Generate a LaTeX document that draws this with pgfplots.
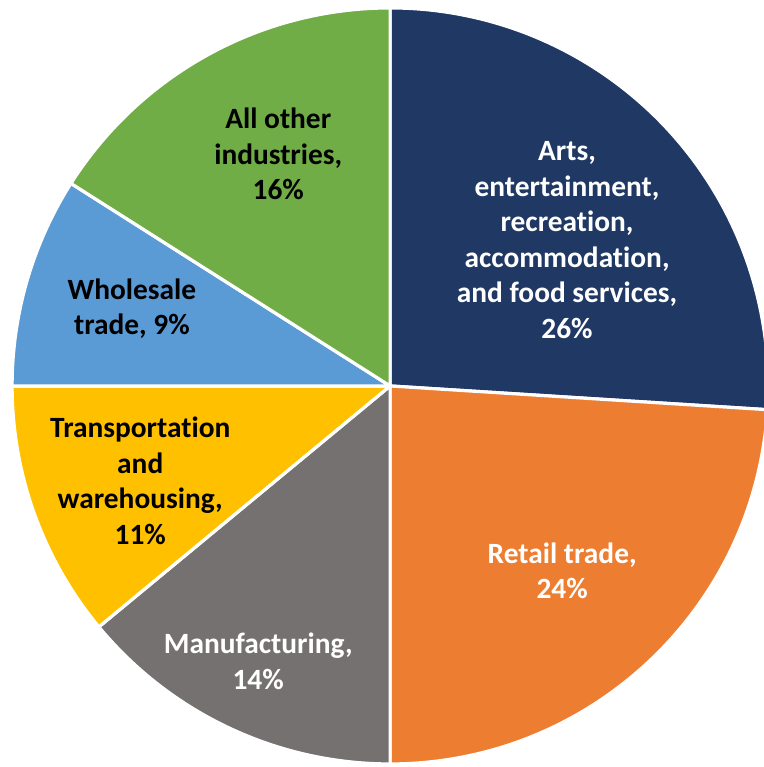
\documentclass[border=0pt]{standalone}
\usepackage{pgfplots}
\usepackage{pgfplotstable}
\pgfplotsset{compat=1.18}
\usepackage{fontspec}
\setmainfont{Carlito}[Ligatures={NoCommon}]

\definecolor{artsc}{HTML}{203864}
\definecolor{retailc}{HTML}{ED7D31}
\definecolor{manuc}{HTML}{767171}
\definecolor{transc}{HTML}{FFC000}
\definecolor{wholec}{HTML}{5B9BD5}
\definecolor{otherc}{HTML}{70AD47}

\tikzset{lab/.style={font=\bfseries\fontsize{14.7}{17.8}\selectfont, align=center}}

% share of each industry, clockwise from 12 o'clock
\pgfplotstableread{
value color
26 artsc
24 retailc
14 manuc
11 transc
9 wholec
16 otherc
}\piedata

\begin{document}
\begin{tikzpicture}
\begin{axis}[
  name=ax,
  scale only axis,
  width=382pt, height=383.5pt,
  xmin=-1.032, xmax=0.989,
  ymin=-1.008, ymax=1.021,
  hide axis,
]
\pgfplotstablegetrowsof{\piedata}
\pgfmathtruncatemacro\N{\pgfplotsretval-1}
\def\angA{90}
\pgfplotsforeachungrouped \i in {0,...,\N}{
  \pgfplotstablegetelem{\i}{value}\of\piedata \let\v\pgfplotsretval
  \pgfplotstablegetelem{\i}{color}\of\piedata \let\c\pgfplotsretval
  \pgfmathsetmacro\angB{\angA-3.6*\v}
  \pgfmathsetmacro\xA{cos(\angA)}
  \pgfmathsetmacro\yA{sin(\angA)}
  \edef\temp{\noexpand\fill[\c, draw=white, line width=1.6pt, line join=round]
    (axis cs:0,0) -- (axis cs:\xA,\yA)
    arc[start angle=\angA, end angle=\angB, radius=1] -- cycle;}
  \temp
  \global\let\angA\angB
}
\node[lab, text=white] at (axis cs:0.468,0.386) {Arts,\\entertainment,\\recreation,\\accommodation,\\and food services,\\26\%};
\node[lab, text=white] at (axis cs:0.455,-0.489) {Retail trade,\\24\%};
\node[lab, text=white] at (axis cs:-0.349,-0.728) {Manufacturing,\\14\%};
\node[lab, text=black] at (axis cs:-0.661,-0.251) {Transportation\\and\\warehousing,\\11\%};
\node[lab, text=black] at (axis cs:-0.683,0.204) {Wholesale\\trade, 9\%};
\node[lab, text=black] at (axis cs:-0.296,0.614) {All other\\industries,\\16\%};
\end{axis}
\pgfresetboundingbox
\path[use as bounding box] (ax.south west) rectangle (ax.north east);
\end{tikzpicture}
\end{document}
